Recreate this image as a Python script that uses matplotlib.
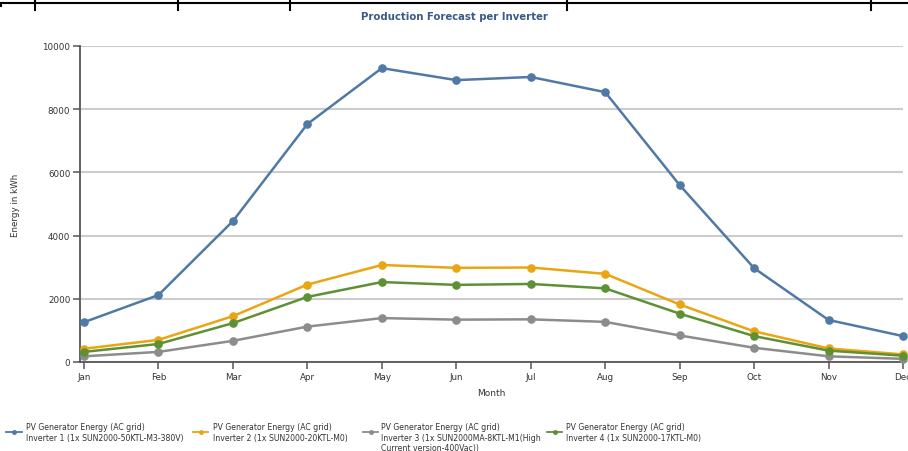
"""
Production forecast per inverter, monthly energy (kWh)
"""

import matplotlib
matplotlib.use('Agg')
import matplotlib.pyplot as plt
from matplotlib.lines import Line2D


months = ['Jan', 'Feb', 'Mar', 'Apr', 'May', 'Jun', 'Jul', 'Aug', 'Sep', 'Oct', 'Nov', 'Dec']

inverter_1 = [1260, 2120, 4460, 7530, 9300, 8920, 9020, 8540, 5600, 2970, 1330, 820]
inverter_2 = [420, 700, 1450, 2450, 3070, 2980, 2990, 2790, 1820, 970, 430, 240]
inverter_3 = [180, 320, 670, 1120, 1390, 1340, 1350, 1270, 840, 450, 180, 100]
inverter_4 = [320, 570, 1230, 2060, 2530, 2440, 2470, 2330, 1530, 820, 360, 200]

labels = [
    'PV Generator Energy (AC grid)\nInverter 1 (1x SUN2000-50KTL-M3-380V)',
    'PV Generator Energy (AC grid)\nInverter 2 (1x SUN2000-20KTL-M0)',
    'PV Generator Energy (AC grid)\nInverter 3 (1x SUN2000MA-8KTL-M1(High\nCurrent version-400Vac))',
    'PV Generator Energy (AC grid)\nInverter 4 (1x SUN2000-17KTL-M0)',
]
yticks = [0, 2000, 4000, 6000, 8000, 10000]

colors = ['#5079a5', '#eaa612', '#8c8c8c', '#5e9136']
series = [inverter_1, inverter_2, inverter_3, inverter_4]

W, H = 908, 452
fig = plt.figure(figsize=(W / 100, H / 100), dpi=100)
ax = fig.add_axes([80 / W, 1 - 363 / H, (903 - 80) / W, (363 - 47) / H])

x = list(range(len(months)))
# draw order: blue, orange, gray, green on top of gray
for idx in [0, 2, 1, 3]:
    ax.plot(x, series[idx], color=colors[idx], lw=1.8, marker='o', ms=5.2,
            zorder=3 + idx, clip_on=False)

ax.set_xlim(-0.054, 11.0)
ax.set_ylim(0, 10000)
ax.set_xticks(x)
ax.set_xticklabels(months)
ax.set_yticks(yticks)
ax.set_yticklabels([str(v) for v in yticks])

ax.grid(axis='y', color='#cccccc', lw=1.5)
ax.set_axisbelow(True)
for s in ['top', 'right']:
    ax.spines[s].set_visible(False)
for s in ['left', 'bottom']:
    ax.spines[s].set_color('#555555')
    ax.spines[s].set_linewidth(1.3)
ax.tick_params(axis='both', colors='#555555', labelcolor='#333333', labelsize=6.3,
               length=5, width=1.1, pad=2)

ax.set_xlabel('Month', fontsize=6.5, color='#333333', labelpad=5)
ax.set_ylabel('Energy in kWh', fontsize=6.3, color='#333333', labelpad=16)

fig.text(455 / W, 1 - 17 / H, 'Production Forecast per Inverter', ha='center', va='center',
         fontsize=7.3, color='#3b5a86', fontweight='bold')

# legend, drawn by hand: (handle start, handle end, text start) in pixels
leg_pos = [(6, 22, 26), (193, 208, 213), (363, 378, 381), (547, 562, 566)]
for i in range(4):
    h0, h1, tx = leg_pos[i]
    ly = 1 - 433 / H
    fig.add_artist(Line2D([h0 / W, h1 / W], [ly, ly], color=colors[i], lw=1.3))
    fig.add_artist(Line2D([(h0 + h1) / 2 / W], [ly], color=colors[i], marker='o', ms=2.5))
    fig.text(tx / W, 1 - 423 / H, labels[i], ha='left', va='top', fontsize=5.6,
             color='#333333', linespacing=1.25)

# table border remnant at the top of the image
fig.add_artist(Line2D([0, 1], [1 - 4 / H, 1 - 4 / H], color='black', lw=1.5))
for vx in [35, 178, 290, 567, 871]:
    fig.add_artist(Line2D([vx / W, vx / W], [1, 1 - 11 / H], color='black', lw=1.5))
fig.add_artist(Line2D([1 / W, 1 / W], [1 - 4 / H, 1 - 7 / H], color='black', lw=1.5))

plt.savefig('out.png', dpi=100)
